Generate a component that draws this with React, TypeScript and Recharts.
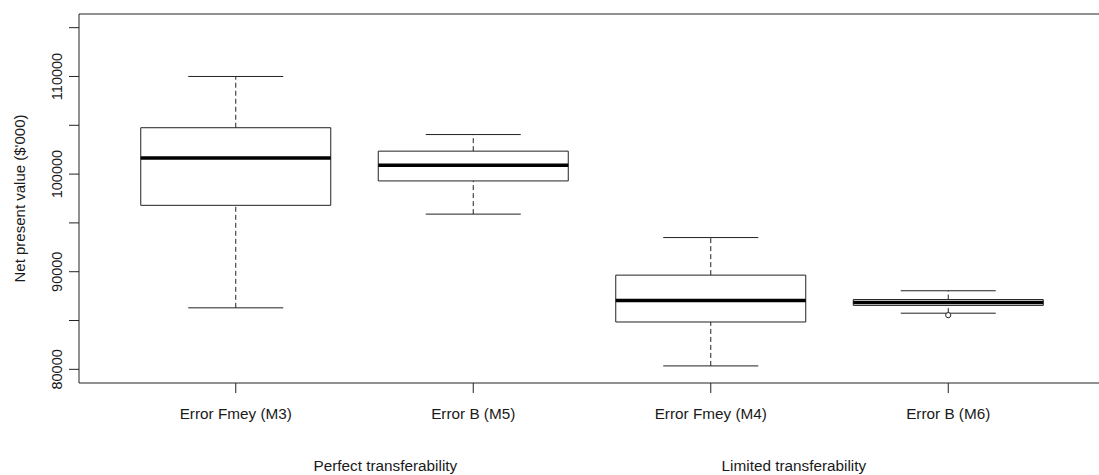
import {
  ComposedChart, XAxis, YAxis, Scatter,
  ReferenceArea, ReferenceLine,
} from "recharts";

// box statistics
const categories = ["Error Fmey (M3)", "Error B (M5)", "Error Fmey (M4)", "Error B (M6)"];
const positions = [1, 2, 3, 4];
const whiskerLow = [86300, 95900, 80350, 85750];
const q1 = [96800, 99300, 84850, 86550];
const median = [101650, 100900, 87050, 86850];
const q3 = [104750, 102350, 89650, 87150];
const whiskerHigh = [110000, 104050, 93500, 88050];
const outliers = [{ pos: 4, value: 85550 }];

const groupLabels = ["Perfect transferability", "Limited transferability"];
const groupPositions = [1.63, 3.35];

const yTicks = [80000, 85000, 90000, 95000, 100000, 105000, 110000, 115000];
const yLabelled = [80000, 90000, 100000, 110000];

const FONT = "'Liberation Sans', Arial, sans-serif";
const INK = "#1a1a1a";
const LINE = "#222";

type TickProps = { x?: number; y?: number; index?: number; payload?: { value: number } };

const YTick = ({ x, y, payload }: TickProps) => {
  if (!payload || !yLabelled.includes(payload.value)) return null;
  const tx = (x ?? 0) - 6.5;
  return (
    <text x={tx} y={y} transform={`rotate(-90, ${tx}, ${y})`} textAnchor="middle"
      fontSize={14.5} fontFamily={FONT} fill={INK}>
      {payload.value}
    </text>
  );
};

const XTick = ({ x, y, index }: TickProps) => (
  <g>
    <text x={x} y={(y ?? 0) + 25.5} textAnchor="middle" fontSize={15.3} fontFamily={FONT} fill={INK}>
      {categories[index ?? 0]}
    </text>
  </g>
);

const GroupTick = ({ x, y, index }: TickProps) => (
  <g>
    <text x={x} y={(y ?? 0) + 38} textAnchor="middle" fontSize={15.3} fontFamily={FONT} fill={INK}>
      {groupLabels[index ?? 0]}
    </text>
  </g>
);

const YTitle = ({ viewBox }: { viewBox?: { x: number; y: number; width: number; height: number } }) => {
  const cy = (viewBox?.y ?? 0) + (viewBox?.height ?? 0) / 2;
  return (
    <text x={25} y={cy} transform={`rotate(-90, 25, ${cy})`} textAnchor="middle"
      fontSize={15} fontFamily={FONT} fill={INK}>
      Net present value ($'000)
    </text>
  );
};

export default function App() {
  return (
    <div style={{ position: "absolute", left: 0, top: 0, width: 1099, height: 475, overflow: "hidden", background: "#fff" }}>
      <ComposedChart width={1120} height={475} margin={{ top: 14, right: 15, bottom: 0, left: 0 }}>
        <XAxis
          type="number" dataKey="pos" domain={[0.34, 4.66]} ticks={positions}
          height={50} tickSize={10} tickMargin={0} axisLine={false}
          tickLine={{ stroke: LINE }} tick={<XTick />} interval={0}
        />
        <XAxis
          xAxisId="groups" type="number" dataKey="pos" domain={[0.34, 4.66]} ticks={groupPositions}
          allowDataOverflow height={42} tickSize={0} tickMargin={0} axisLine={false} tickLine={false}
          tick={<GroupTick />} interval={0}
        />
        <YAxis
          type="number" dataKey="value" domain={[78600, 116400]} ticks={yTicks}
          width={79} tickSize={10} tickMargin={0} axisLine={false}
          tickLine={{ stroke: LINE }} tick={<YTick />} interval={0}
          label={{ content: <YTitle /> }}
        />
        {/* plot frame */}
        <ReferenceArea x1={0.34} x2={4.66} y1={78600} y2={116400} fill="none" stroke={LINE} strokeWidth={1} />
        {positions.map((p, i) => (
          <ReferenceArea key={`box${i}`} x1={p - 0.4} x2={p + 0.4} y1={q1[i]} y2={q3[i]}
            fill="none" stroke={LINE} strokeWidth={1} />
        ))}
        {positions.map((p, i) => (
          <ReferenceLine key={`wu${i}`} segment={[{ x: p, y: q3[i] }, { x: p, y: whiskerHigh[i] }]}
            stroke={LINE} strokeDasharray="5 3" />
        ))}
        {positions.map((p, i) => (
          <ReferenceLine key={`wl${i}`} segment={[{ x: p, y: whiskerLow[i] }, { x: p, y: q1[i] }]}
            stroke={LINE} strokeDasharray="5 3" />
        ))}
        {positions.map((p, i) => (
          <ReferenceLine key={`cu${i}`} segment={[{ x: p - 0.2, y: whiskerHigh[i] }, { x: p + 0.2, y: whiskerHigh[i] }]}
            stroke={LINE} />
        ))}
        {positions.map((p, i) => (
          <ReferenceLine key={`cl${i}`} segment={[{ x: p - 0.2, y: whiskerLow[i] }, { x: p + 0.2, y: whiskerLow[i] }]}
            stroke={LINE} />
        ))}
        {positions.map((p, i) => (
          <ReferenceLine key={`md${i}`} segment={[{ x: p - 0.4, y: median[i] }, { x: p + 0.4, y: median[i] }]}
            stroke="#000" strokeWidth={3.5} />
        ))}
        <Scatter
          data={outliers} dataKey="value" isAnimationActive={false}
          shape={(props: { cx?: number; cy?: number }) => (
            <circle cx={props.cx} cy={props.cy} r={2.6} fill="#fff" stroke={LINE} strokeWidth={1} />
          )}
        />
        <Scatter xAxisId="groups" data={[]} dataKey="value" isAnimationActive={false} />
      </ComposedChart>
    </div>
  );
}
